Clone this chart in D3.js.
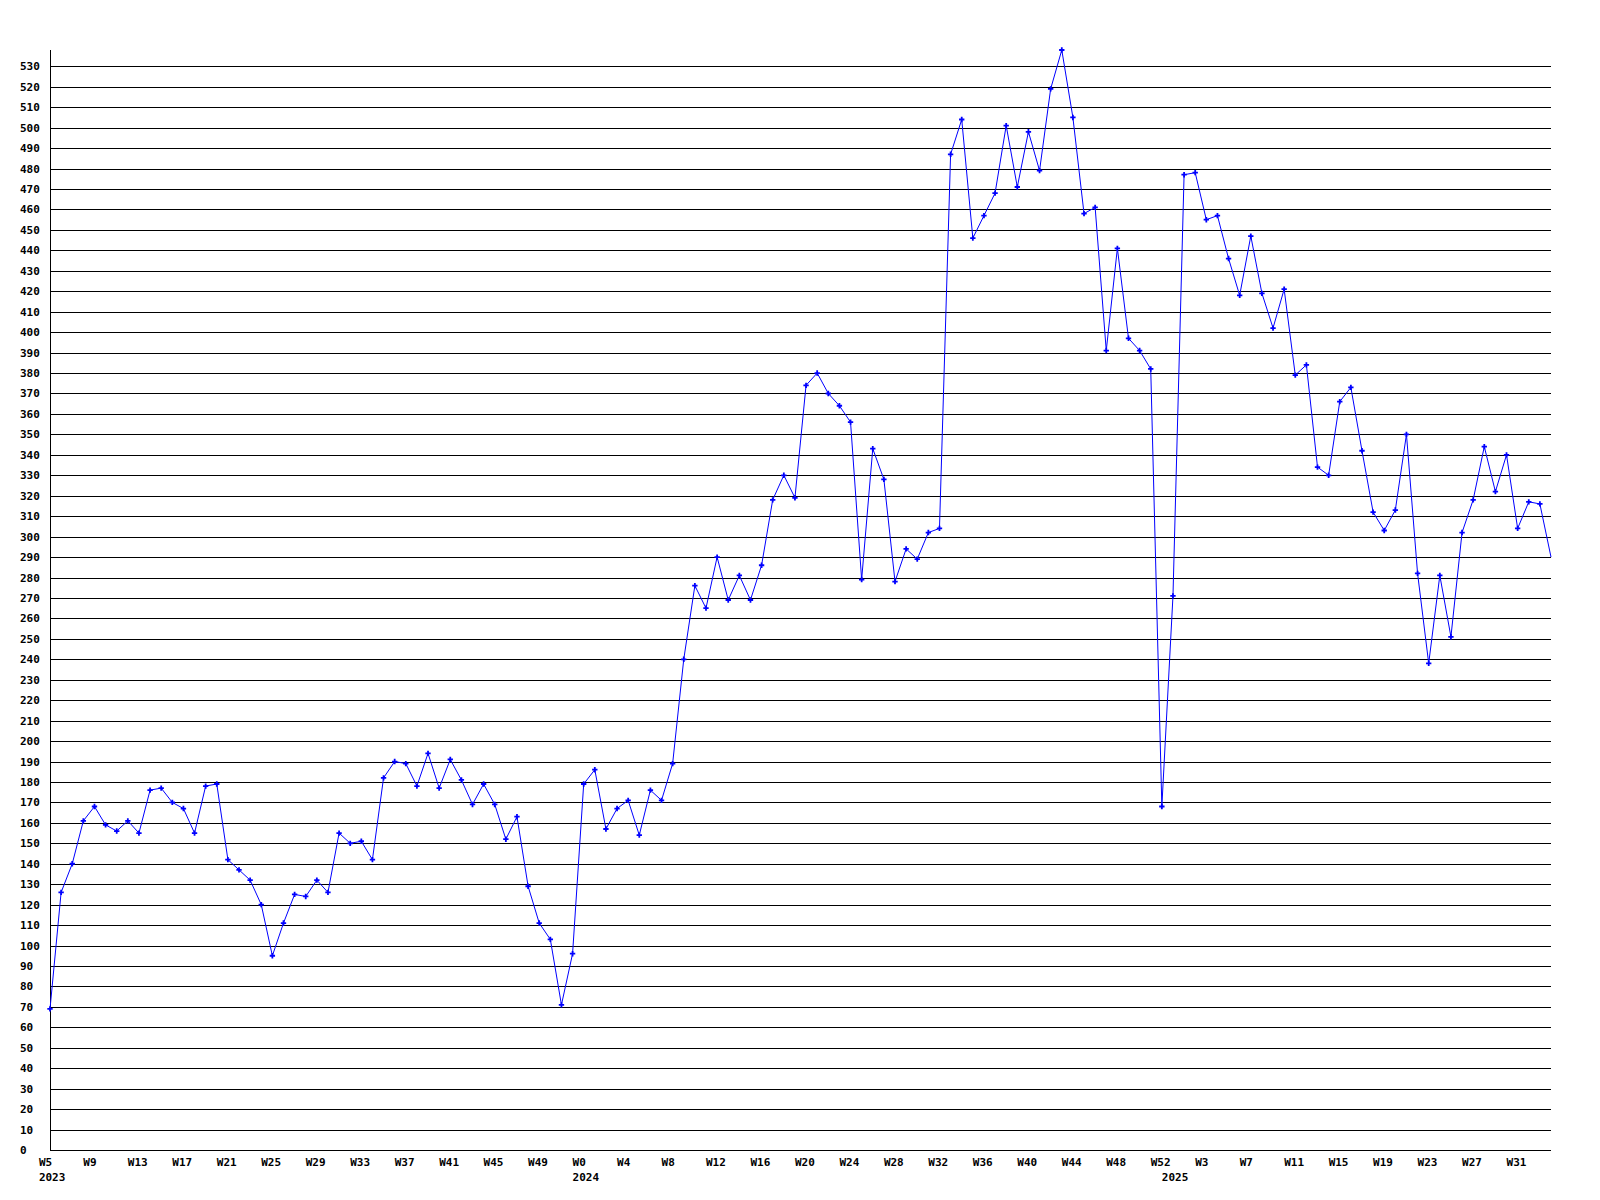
<!DOCTYPE html>
<html>
<head>
<meta charset="utf-8">
<script src="https://cdn.jsdelivr.net/npm/d3@7"></script>
<style>
  html, body { margin: 0; padding: 0; background: #ffffff; }
  svg { display: block; }
  text { font-family: "DejaVu Sans Mono", "Liberation Mono", monospace; font-weight: bold; font-size: 11px; fill: #000; }
</style>
</head>
<body>
<svg id="chart" width="1600" height="1200"></svg>
<script>
// ---- data ----
const values = [
  69, 126, 140, 161, 168, 159, 156, 161, 155, 176,
  177, 170, 167, 155, 178, 179, 142, 137, 132, 120,
  95, 111, 125, 124, 132, 126, 155, 150, 151, 142,
  182, 190, 189, 178, 194, 177, 191, 181, 169, 179,
  169, 152, 163, 129, 111, 103, 71, 96, 179, 186,
  157, 167, 171, 154, 176, 171, 189, 240, 276, 265,
  290, 269, 281, 269, 286, 318, 330, 319, 374, 380,
  370, 364, 356, 279, 343, 328, 278, 294, 289, 302,
  304, 487, 504, 446, 457, 468, 501, 471, 498, 479,
  519, 538, 505, 458, 461, 391, 441, 397, 391, 382,
  168, 271, 477, 478, 455, 457, 436, 418, 447, 419,
  402, 421, 379, 384, 334, 330, 366, 373, 342, 312,
  303, 313, 350, 282, 238, 281, 251, 302, 318, 344,
  322, 340, 304, 317, 316, 290
];
const weekLabels = [
  "W5", "W9", "W13", "W17", "W21", "W25", "W29", "W33", "W37", "W41", "W45", "W49",
  "W0", "W4", "W8", "W12", "W16", "W20", "W24", "W28", "W32", "W36", "W40", "W44", "W48", "W52",
  "W3", "W7", "W11", "W15", "W19", "W23", "W27", "W31"
];
const weekLabelStep = 4;           // one week label every 4 points
const yearLabels = ["2023", "2024", "2025"];
const yearFirstPoint = [0, 48, 101]; // index of the first point of each year
const yTickStep = 10;

(function () {
  const svg = d3.select("#chart");
  const mLeft = 50, mRight = 1551, mTop = 50, mBottom = 1150;
  const maxV = d3.max(values);

  const x = d3.scaleLinear().domain([0, values.length - 1]).range([mLeft, mRight]);
  const y = d3.scaleLinear().domain([0, maxV]).range([mBottom, mTop]);
  const step = x(1) - x(0);

  // gridlines + y labels
  const yTicks = d3.range(0, maxV + 1, yTickStep);
  svg.append("g").selectAll("line").data(yTicks).join("line")
    .attr("x1", mLeft).attr("x2", mRight)
    .attr("y1", d => Math.round(y(d)) + 0.5).attr("y2", d => Math.round(y(d)) + 0.5)
    .attr("stroke", "#000").attr("stroke-width", 1).attr("shape-rendering", "crispEdges");

  svg.append("g").selectAll("text").data(yTicks).join("text")
    .attr("x", 20).attr("y", d => Math.round(y(d)) + 4)
    .attr("text-anchor", "start")
    .text(d => d);

  // y axis line
  svg.append("line")
    .attr("x1", mLeft + 0.5).attr("x2", mLeft + 0.5)
    .attr("y1", mTop).attr("y2", mBottom + 1)
    .attr("stroke", "#000").attr("stroke-width", 1).attr("shape-rendering", "crispEdges");

  // x labels
  svg.append("g").selectAll("text").data(weekLabels).join("text")
    .attr("x", (d, i) => x(i * weekLabelStep) - step)
    .attr("y", 1166)
    .attr("text-anchor", "start")
    .text(d => d);

  svg.append("g").selectAll("text").data(yearLabels).join("text")
    .attr("x", (d, i) => x(yearFirstPoint[i]) - step)
    .attr("y", 1181)
    .attr("text-anchor", "start")
    .text(d => d);

  // line
  const line = d3.line().x((d, i) => x(i)).y(d => y(d));
  svg.append("path")
    .datum(values)
    .attr("d", line)
    .attr("fill", "none")
    .attr("stroke", "#0000ff")
    .attr("stroke-width", 1);

  // markers (all but the last point)
  const sym = d3.symbol().type(d3.symbolCross).size(16);
  svg.append("g").selectAll("path").data(values.slice(0, values.length - 1)).join("path")
    .attr("d", sym)
    .attr("transform", (d, i) => `translate(${x(i)},${y(d)})`)
    .attr("fill", "#0000ff");
})();
</script>
</body>
</html>
